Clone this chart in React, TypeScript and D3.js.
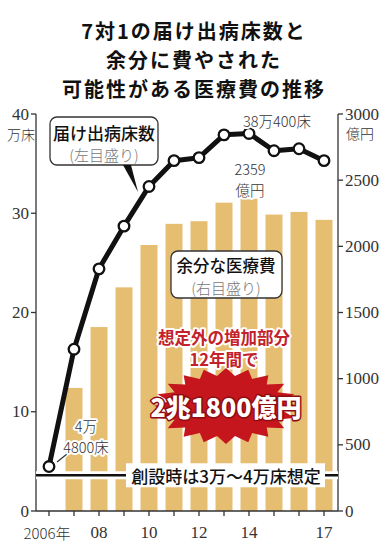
import React from 'react';
import * as d3 from 'd3';

// 届け出病床数 (万床, left axis)
const years = [2006, 2007, 2008, 2009, 2010, 2011, 2012, 2013, 2014, 2015, 2016, 2017];
const beds = [4.48, 16.3, 24.4, 28.7, 32.7, 35.3, 35.6, 37.9, 38.04, 36.3, 36.5, 35.3];
// 余分な医療費 (億円, right axis)
const costYears = [2007, 2008, 2009, 2010, 2011, 2012, 2013, 2014, 2015, 2016, 2017];
const costs = [930, 1390, 1690, 2010, 2170, 2190, 2330, 2359, 2240, 2260, 2200];

const leftTicks = [0, 10, 20, 30, 40];
const rightTicks = [0, 500, 1000, 1500, 2000, 2500, 3000];
const xLabels: [number, string][] = [[2006, '2006年'], [2008, '08'], [2010, '10'], [2012, '12'], [2014, '14'], [2017, '17']];
const planned = 3.6; // 創設時は3万～4万床想定

const titleLines = ['7対1の届け出病床数と', '余分に費やされた', '可能性がある医療費の推移'];

const JP = '"Noto Sans CJK JP", "Noto Sans", sans-serif';
const NUM = '"Liberation Serif", "DejaVu Serif", serif';

export default function App() {
  const W = 387, H = 555;
  const axL = 36, axR = 338, base = 511, top = 114;
  const x = d3.scaleLinear().domain([2006, 2017]).range([49, 324]);
  const yL = d3.scaleLinear().domain([0, 40]).range([base, top]);
  const yR = d3.scaleLinear().domain([0, 3000]).range([base, top]);
  const barW = 17;

  const line = d3.line<number>()
    .x((_, i) => x(years[i]))
    .y(d => yL(d));

  // burst shape
  const cx = 226, cy = 406;
  const burstPts: [number, number][] = [];
  const n = 40;
  for (let i = 0; i < n; i++) {
    const a = (i / n) * Math.PI * 2;
    const r = i % 2 === 0 ? 1 : 0.8;
    burstPts.push([cx + Math.cos(a) * 72 * r, cy + Math.sin(a) * 38 * r]);
  }
  const burst = d3.line().curve(d3.curveLinearClosed)(burstPts) || '';

  const allYears = d3.range(2006, 2018);

  return (
    <svg width={W} height={H} style={{ position: 'absolute', left: 0, top: 0, background: '#fff' }}>
      <rect width={W} height={H} fill="#fff" />
      {titleLines.map((t, i) => (
        <text key={i} x={194} y={30 + i * 29} textAnchor="middle" dominantBaseline="central"
          fontFamily={JP} fontWeight={700} fontSize={20} letterSpacing={2} fill="#111">{t}</text>
      ))}

      {/* bars */}
      {costs.map((v, i) => (
        <rect key={i} x={x(costYears[i]) - barW / 2} y={yR(v)} width={barW} height={base - yR(v)} fill="#E5BE72" />
      ))}

      {/* axes */}
      <line x1={axL} x2={axL} y1={top} y2={base} stroke="#333" strokeWidth={1.3} />
      <line x1={axR} x2={axR} y1={top} y2={base} stroke="#333" strokeWidth={1.3} />
      <line x1={axL} x2={axR} y1={base} y2={base} stroke="#333" strokeWidth={1.3} />
      {leftTicks.map(t => (
        <g key={t}>
          <line x1={axL - 5} x2={axL} y1={yL(t)} y2={yL(t)} stroke="#333" strokeWidth={1.3} />
          <text x={axL - 7} y={yL(t)} textAnchor="end" dominantBaseline="central" fontFamily={NUM} fontSize={17} fill="#333">{t}</text>
        </g>
      ))}
      <text x={axL - 15} y={134} textAnchor="middle" dominantBaseline="central" fontFamily={JP} fontWeight={300} fontSize={14} fill="#333">万床</text>
      {rightTicks.map(t => (
        <g key={t}>
          <line x1={axR} x2={axR + 5} y1={yR(t)} y2={yR(t)} stroke="#333" strokeWidth={1.3} />
          <text x={axR + 7} y={yR(t)} textAnchor="start" dominantBaseline="central" fontFamily={NUM} fontSize={17} fill="#333">{t}</text>
        </g>
      ))}
      <text x={axR + 22} y={133} textAnchor="middle" dominantBaseline="central" fontFamily={JP} fontWeight={300} fontSize={14} fill="#333">億円</text>
      {allYears.map(yv => (
        <line key={yv} x1={x(yv)} x2={x(yv)} y1={base} y2={base + 5} stroke="#333" strokeWidth={1.3} />
      ))}
      {xLabels.map(([yv, l]) => (
        <text key={yv} x={x(yv) - (l.length > 2 ? 2 : 0)} y={532} textAnchor="middle" dominantBaseline="central"
          fontFamily={l.length > 2 ? JP : NUM} fontWeight={300} fontSize={l.length > 2 ? 15 : 17} fill="#333">{l}</text>
      ))}

      {/* planned beds line */}
      <line x1={axL} x2={axR} y1={yL(planned)} y2={yL(planned)} stroke="#fff" strokeWidth={8} />
      <line x1={axL} x2={axR} y1={yL(planned)} y2={yL(planned)} stroke="#111" strokeWidth={2.5} />
      <rect x={126} y={yL(planned) - 12} width={199} height={24} fill="#fff" />
      <text x={226} y={yL(planned)} textAnchor="middle" dominantBaseline="central" fontFamily={JP} fontWeight={500} fontSize={17} fill="#111">創設時は3万～4万床想定</text>

      {/* red burst */}
      <text x={224} y={337} textAnchor="middle" dominantBaseline="central" fontFamily={JP} fontWeight={700} fontSize={16.5}
        fill="#C3212B" stroke="#fff" strokeWidth={4} paintOrder="stroke" strokeLinejoin="round">想定外の増加部分</text>
      <text x={224} y={359} textAnchor="middle" dominantBaseline="central" fontFamily={JP} fontWeight={700} fontSize={16.5}
        fill="#C3212B" stroke="#fff" strokeWidth={4} paintOrder="stroke" strokeLinejoin="round">12年間で</text>
      <path d={burst} fill="#C4161C" />
      <text x={cx} y={cy} textAnchor="middle" dominantBaseline="central" fontFamily={JP} fontWeight={900} fontSize={25}
        fill="#fff" stroke="#8E0D12" strokeWidth={3} paintOrder="stroke" strokeLinejoin="round">2兆1800億円</text>

      {/* callouts */}
      <rect x={50} y={117} width={108} height={48} rx={7} fill="#fff" stroke="#333" strokeWidth={1.3} />
      <path d="M 123 165 L 138 192 L 131 165 Z" fill="#111" />
      <text x={104} y={132} textAnchor="middle" dominantBaseline="central" fontFamily={JP} fontWeight={500} fontSize={17} fill="#111">届け出病床数</text>
      <text x={104} y={154} textAnchor="middle" dominantBaseline="central" fontFamily={JP} fontWeight={300} fontSize={15} fill="#777">(左目盛り)</text>

      <rect x={171} y={251} width={111} height={47} rx={7} fill="#fff" stroke="#333" strokeWidth={1.3} />
      <text x={226} y={265} textAnchor="middle" dominantBaseline="central" fontFamily={JP} fontWeight={500} fontSize={16.5} fill="#111">余分な医療費</text>
      <text x={226} y={287} textAnchor="middle" dominantBaseline="central" fontFamily={JP} fontWeight={300} fontSize={15} fill="#777">(右目盛り)</text>

      {/* beds line */}
      <path d={line(beds) || ''} fill="none" stroke="#111" strokeWidth={5} strokeLinejoin="round" />
      {beds.map((v, i) => (
        <circle key={i} cx={x(years[i])} cy={yL(v)} r={5.3} fill="#fff" stroke="#111" strokeWidth={2.3} />
      ))}

      {/* annotations */}
      <line x1={57} x2={67} y1={462} y2={454} stroke="#fff" strokeWidth={4} />
      <line x1={57} x2={67} y1={462} y2={454} stroke="#333" strokeWidth={1.2} />
      <g fontFamily={JP} fontWeight={300} fontSize={14.5} fill="#333" stroke="#fff" strokeWidth={4} paintOrder="stroke" strokeLinejoin="round" textAnchor="middle" dominantBaseline="central">
        <text x={86} y={425}>4万</text>
        <text x={86} y={446}>4800床</text>
        <text x={277} y={120}>38万400床</text>
        <text x={250} y={168}>2359</text>
        <text x={250} y={189}>億円</text>
      </g>
    </svg>
  );
}
